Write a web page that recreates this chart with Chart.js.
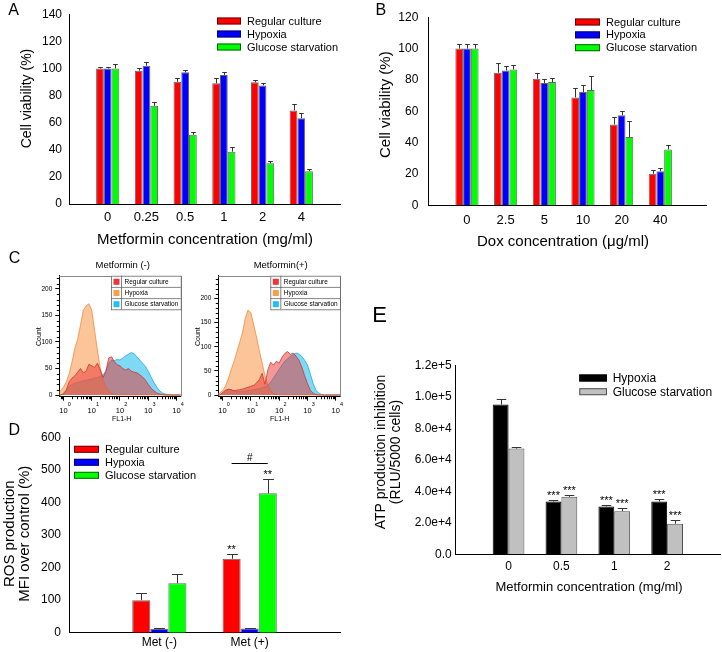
<!DOCTYPE html>
<html>
<head>
<meta charset="utf-8">
<title>Metformin figure</title>
<script src="https://cdn.jsdelivr.net/npm/chart.js@4.4.1/dist/chart.umd.min.js"></script>
<style>
  html, body { margin: 0; padding: 0; background: #fff; }
  body { position: relative; width: 722px; height: 652px; overflow: hidden; }
  canvas { position: absolute; }
</style>
</head>
<body>
<canvas id="panelA" width="360" height="255" style="left:0;top:0"></canvas>
<canvas id="panelB" width="362" height="255" style="left:360px;top:0"></canvas>
<canvas id="panelC1" width="195" height="185" style="left:0;top:245px"></canvas>
<canvas id="panelC2" width="180" height="185" style="left:185px;top:245px"></canvas>
<canvas id="panelD" width="360" height="237" style="left:0;top:415px"></canvas>
<canvas id="panelE" width="357" height="357" style="left:365px;top:295px"></canvas>
<script>
const FONT = "'Liberation Sans', Arial, Helvetica, sans-serif";
Chart.defaults.font.family = FONT;
Chart.defaults.color = "#000";
Chart.defaults.animation = false;

// A - cell viability vs metformin (%)
const metforminDosesA = ["0", "0.25", "0.5", "1", "2", "4"];
const regularA = [100, 98.3, 90.1, 89, 89.8, 69];
const hypoxiaA = [100, 102, 97.1, 95.2, 87.5, 63.3];
const glucoseA = [100, 72.4, 51.1, 38.6, 30, 24.2];
const regularErrA = [1, 2.2, 3, 4.3, 2, 4.6];
const hypoxiaErrA = [1, 2.5, 1.7, 1.9, 1.7, 3.6];
const glucoseErrA = [3, 2.9, 2, 3.1, 1.4, 1.5];
const viabilityTicksA = [0, 20, 40, 60, 80, 100, 120, 140];

// B - cell viability vs dox (%)
const doxDosesB = ["0", "2.5", "5", "10", "20", "40"];
const regularB = [100, 84.6, 80.7, 68.8, 51.6, 20.1];
const hypoxiaB = [100, 86, 78, 72.3, 57.5, 21.7];
const glucoseB = [100, 86.6, 78.6, 73.5, 43.6, 35.6];
const regularErrB = [2.6, 6.3, 3.9, 6.2, 4.5, 2.6];
const hypoxiaErrB = [3.2, 2.9, 2.3, 4.5, 2.7, 2.1];
const glucoseErrB = [3, 3.1, 2.9, 9, 9.9, 2.9];
const viabilityTicksB = [0, 20, 40, 60, 80, 100, 120];

// C - flow histograms, bins in log10(FL1-H)
const fl1Log = [-0.2, -0.1, 0, 0.1, 0.2, 0.3, 0.4, 0.5, 0.6, 0.7, 0.8, 0.9, 1, 1.1, 1.2,
  1.3, 1.4, 1.5, 1.6, 1.7, 1.8, 1.9, 2, 2.1, 2.2, 2.3, 2.4, 2.5, 2.6, 2.7, 2.8, 2.9, 3,
  3.1, 3.2, 3.3, 3.4, 3.5, 3.6, 3.7, 3.8, 3.9, 4, 4.1, 4.2];
const fl1Decades = [0, 1, 2, 3, 4];
const countTicksC = [0, 50, 100, 150, 200];
// Metformin (-)
const hypoxiaC1 = [3, 8, 15, 25, 40, 62, 88, 105, 132, 160, 168, 172, 160, 122, 85, 50, 28, 15, 8, 3, 1,
  0, 0, 0, 0, 0, 0, 0, 0, 0, 0, 0, 0, 0, 0, 0, 0, 0, 0, 0, 0, 0, 0, 0, 0];
const regularC1 = [0, 0, 3, 10, 25, 32, 36, 43, 50, 42, 45, 58, 55, 52, 60, 48, 33, 45, 70, 72, 63, 57,
  55, 50, 47, 50, 45, 43, 42, 38, 34, 28, 20, 13, 8, 4, 2, 1, 0, 0, 0, 0, 0, 0, 0];
const glucoseC1 = [0, 0, 2, 8, 16, 20, 22, 24, 25, 27, 28, 29, 30, 32, 33, 35, 38, 45, 60, 66, 65, 67,
  66, 70, 74, 77, 80, 78, 72, 66, 60, 54, 45, 34, 24, 15, 8, 4, 2, 1, 0, 0, 0, 0, 0];
// Metformin (+)
const hypoxiaC2 = [2, 4, 9, 18, 33, 52, 68, 88, 108, 128, 158, 176, 170, 146, 120, 92, 66, 40, 20, 9, 3, 1,
  0, 0, 0, 0, 0, 0, 0, 0, 0, 0, 0, 0, 0, 0, 0, 0, 0, 0, 0, 0, 0, 0, 0];
const regularC2 = [0, 0, 5, 10, 12, 11, 9, 10, 11, 12, 14, 16, 18, 20, 25, 32, 45, 22, 52, 68, 62, 70,
  66, 78, 86, 90, 84, 87, 80, 72, 58, 40, 24, 10, 4, 1, 0, 0, 0, 0, 0, 0, 0, 0, 0];
const glucoseC2 = [0, 0, 3, 8, 12, 11, 8, 7, 7, 8, 8, 9, 10, 11, 12, 13, 15, 17, 20, 27, 35, 44,
  53, 62, 70, 75, 80, 84, 87, 85, 80, 72, 62, 44, 24, 10, 4, 1, 0, 0, 0, 0, 0, 0, 0];

// D - ROS production, MFI over control (%)
const rosGroups = ["Met (-)", "Met (+)"];
const rosRegular = [100, 227];
const rosHypoxia = [12, 13];
const rosGlucose = [151.5, 428];
const rosRegularErr = [21, 14.6];
const rosHypoxiaErr = [1, 1.5];
const rosGlucoseErr = [27.5, 43];
const rosTicks = [0, 100, 200, 300, 400, 500, 600];
const rosBracketLevel = 520;

// E - ATP production inhibition (RLU/5000 cells)
const atpDoses = ["0", "0.5", "1", "2"];
const atpHypoxia = [95100, 33500, 30400, 33500];
const atpGlucose = [67100, 36500, 27400, 19400];
const atpHypoxiaErr = [3400, 900, 700, 1300];
const atpGlucoseErr = [800, 900, 1800, 2300];
const atpTicks = [0, 20000, 40000, 60000, 80000, 100000, 120000];

// ---------- small plugins ----------
function textPlugin(items) {
  return {
    id: "panelText",
    afterDraw(chart) {
      const ctx = chart.ctx;
      items.forEach((t) => {
        ctx.save();
        ctx.font = (t.size || 12) + "px " + FONT;
        ctx.fillStyle = "#000";
        ctx.textAlign = t.align || "center";
        ctx.textBaseline = t.base || "middle";
        ctx.translate(t.x, t.y);
        if (t.rot) ctx.rotate((t.rot * Math.PI) / 180);
        ctx.fillText(t.text, 0, 0);
        ctx.restore();
      });
    },
  };
}

function legendPlugin(o) {
  return {
    id: "insideLegend",
    afterDraw(chart) {
      const ctx = chart.ctx;
      ctx.save();
      ctx.font = o.size + "px " + FONT;
      ctx.textAlign = "left";
      ctx.textBaseline = "middle";
      chart.data.datasets.forEach((ds, i) => {
        const cy = o.y + i * o.row;
        ctx.fillStyle = ds.backgroundColor;
        ctx.fillRect(o.x, cy - o.sh / 2, o.sw, o.sh);
        ctx.strokeStyle = ds.borderColor;
        ctx.lineWidth = 1;
        ctx.strokeRect(o.x + 0.5, cy - o.sh / 2 + 0.5, o.sw - 1, o.sh - 1);
        ctx.fillStyle = "#000";
        ctx.fillText(ds.label, o.tx, cy + 0.5);
      });
      ctx.restore();
    },
  };
}

function errorBarPlugin(errors) {
  return {
    id: "errorBars",
    afterDatasetsDraw(chart) {
      const ctx = chart.ctx, y = chart.scales.y;
      ctx.save();
      ctx.strokeStyle = "#333";
      ctx.lineWidth = 1;
      chart.data.datasets.forEach((ds, d) => {
        chart.getDatasetMeta(d).data.forEach((bar, i) => {
          const top = Math.round(y.getPixelForValue(ds.data[i].y + errors[d][i])) + 0.5;
          const cx = Math.round(bar.x) + 0.5;
          const half = bar.width * 0.3;
          ctx.beginPath();
          ctx.moveTo(cx, bar.y);
          ctx.lineTo(cx, top);
          ctx.moveTo(cx - half, top);
          ctx.lineTo(cx + half, top);
          ctx.stroke();
        });
      });
      ctx.restore();
    },
  };
}

// asterisks above error bars, optional bracket with a label
function marksPlugin(errors, marks, size, bracket) {
  return {
    id: "sigMarks",
    afterDatasetsDraw(chart) {
      const ctx = chart.ctx, y = chart.scales.y;
      ctx.save();
      ctx.fillStyle = "#000";
      ctx.strokeStyle = "#000";
      ctx.textAlign = "center";
      ctx.textBaseline = "alphabetic";
      ctx.font = size + "px " + FONT;
      marks.forEach((m) => {
        const bar = chart.getDatasetMeta(m.ds).data[m.i];
        const v = chart.data.datasets[m.ds].data[m.i].y + errors[m.ds][m.i];
        ctx.fillText(m.text, bar.x, y.getPixelForValue(v) - 1);
      });
      if (bracket) {
        const b1 = chart.getDatasetMeta(bracket.from[0]).data[bracket.from[1]];
        const b2 = chart.getDatasetMeta(bracket.to[0]).data[bracket.to[1]];
        const py = Math.round(y.getPixelForValue(bracket.level)) + 0.5;
        ctx.lineWidth = 1;
        ctx.beginPath();
        ctx.moveTo(b1.x, py);
        ctx.lineTo(b2.x, py);
        ctx.stroke();
        ctx.font = "10px " + FONT;
        ctx.fillText(bracket.text, (b1.x + b2.x) / 2, py - 3);
      }
      ctx.restore();
    },
  };
}

function barPanel(id, p) {
  const canvas = document.getElementById(id);
  const W = canvas.width, H = canvas.height, a = p.area;
  return new Chart(canvas, {
    type: "bar",
    data: {
      datasets: p.series.map((s) => ({
        label: s.label,
        data: s.values.map((v, i) => ({ x: i, y: v })),
        backgroundColor: s.fill,
        borderColor: s.edge,
        borderWidth: 1,
        categoryPercentage: 0.6,
        barPercentage: 1,
      })),
    },
    options: {
      responsive: false,
      animation: false,
      events: [],
      layout: { padding: { left: 0, top: a.t, right: W - a.r, bottom: 0 } },
      plugins: { legend: { display: false }, tooltip: { enabled: false } },
      scales: {
        x: {
          type: "linear",
          offset: false,
          min: p.xMin,
          max: p.xMax,
          afterBuildTicks: (s) => { s.ticks = p.labels.map((_, i) => ({ value: i })); },
          afterFit: (s) => { s.height = H - a.b; },
          grid: { display: false, drawTicks: false },
          border: { display: true, color: "#000", width: 1 },
          ticks: {
            autoSkip: false,
            maxRotation: 0,
            padding: p.xPad,
            font: { size: p.xFont },
            callback: (v) => p.labels[v],
          },
        },
        y: {
          min: 0,
          max: p.yTicks[p.yTicks.length - 1],
          afterBuildTicks: (s) => { s.ticks = p.yTicks.map((v) => ({ value: v })); },
          afterFit: (s) => { s.width = a.l; },
          grid: { display: false, drawTicks: false },
          border: { display: true, color: "#000", width: 1 },
          ticks: { padding: p.yPad, font: { size: p.yFont }, callback: p.yFormat || ((v) => v) },
        },
      },
    },
    plugins: [errorBarPlugin(p.errors), legendPlugin(p.legend), textPlugin(p.texts)].concat(p.extra || []),
  });
}

const RED = "#ff0000", BLUE = "#0000ff", GREEN = "#00ff00", EDGE = "rgba(0,0,0,0.6)";

barPanel("panelA", {
  area: { l: 69, t: 9.3, r: 340, b: 204 },
  xMin: -1, xMax: 6,
  labels: metforminDosesA,
  yTicks: viabilityTicksA,
  xFont: 13, xPad: 6, yFont: 12, yPad: 7,
  series: [
    { label: "Regular culture", values: regularA, fill: RED, edge: EDGE },
    { label: "Hypoxia", values: hypoxiaA, fill: BLUE, edge: EDGE },
    { label: "Glucose starvation", values: glucoseA, fill: GREEN, edge: EDGE },
  ],
  errors: [regularErrA, hypoxiaErrA, glucoseErrA],
  legend: { x: 217, y: 21, row: 13, sw: 24, sh: 7, tx: 247, size: 11 },
  texts: [
    { text: "A", x: 13.7, y: 15, size: 16, base: "alphabetic" },
    { text: "Cell viability (%)", x: 27.5, y: 98.5, size: 14, rot: -90 },
    { text: "Metformin concentration (mg/ml)", x: 205, y: 244, size: 15, base: "alphabetic" },
  ],
});

barPanel("panelB", {
  area: { l: 68.3, t: 10, r: 346.7, b: 205.3 },
  xMin: -1, xMax: 6.2,
  labels: doxDosesB,
  yTicks: viabilityTicksB,
  xFont: 13, xPad: 7, yFont: 12, yPad: 10,
  series: [
    { label: "Regular culture", values: regularB, fill: RED, edge: EDGE },
    { label: "Hypoxia", values: hypoxiaB, fill: BLUE, edge: EDGE },
    { label: "Glucose starvation", values: glucoseB, fill: GREEN, edge: EDGE },
  ],
  errors: [regularErrB, hypoxiaErrB, glucoseErrB],
  legend: { x: 215, y: 22, row: 12.85, sw: 25, sh: 7, tx: 246, size: 11 },
  texts: [
    { text: "B", x: 20.8, y: 15, size: 16, base: "alphabetic" },
    { text: "Cell viability (%)", x: 25.5, y: 104.7, size: 15, rot: -90 },
    { text: "Dox concentration (\u03bcg/ml)", x: 203, y: 246, size: 15, base: "alphabetic" },
  ],
});

// ---------- C: histograms ----------
function histDecor() {
  return {
    id: "histDecor",
    afterDraw(chart) {
      const ctx = chart.ctx, a = chart.chartArea, x = chart.scales.x, y = chart.scales.y;
      ctx.save();
      ctx.strokeStyle = "#888";
      ctx.lineWidth = 1;
      ctx.beginPath();
      ctx.moveTo(a.left, Math.round(a.top) + 0.5);
      ctx.lineTo(Math.round(a.right) + 0.5, Math.round(a.top) + 0.5);
      ctx.lineTo(Math.round(a.right) + 0.5, a.bottom);
      ctx.stroke();
      // minor ticks
      ctx.strokeStyle = "#000";
      ctx.beginPath();
      for (let d = -1; d < 5; d++) {
        for (let k = 2; k < 10; k++) {
          const v = d + Math.log10(k);
          if (v < x.min || v > x.max) continue;
          const px = Math.round(x.getPixelForValue(v)) + 0.5;
          ctx.moveTo(px, a.bottom);
          ctx.lineTo(px, a.bottom + 2.5);
        }
      }
      for (let c = 10; c < y.max; c += 10) {
        if (c % 50 === 0) continue;
        const py = Math.round(y.getPixelForValue(c)) + 0.5;
        ctx.moveTo(a.left, py);
        ctx.lineTo(a.left - 2.5, py);
      }
      ctx.stroke();
      // decade labels 10^n
      ctx.fillStyle = "#000";
      ctx.textBaseline = "middle";
      fl1Decades.forEach((d) => {
        const px = x.getPixelForValue(d);
        ctx.font = "7.5px " + FONT;
        ctx.textAlign = "center";
        ctx.fillText("10", px, a.bottom + 14);
        ctx.font = "5.5px " + FONT;
        ctx.textAlign = "left";
        ctx.fillText(String(d), px + 4.3, a.bottom + 8);
      });
      ctx.restore();
    },
  };
}

function legendBox(o) {
  return {
    id: "legendBox",
    afterDraw(chart) {
      const ctx = chart.ctx;
      const h = o.row * 3;
      ctx.save();
      ctx.fillStyle = "#fff";
      ctx.fillRect(o.x, o.y, o.w, h);
      ctx.strokeStyle = "#666";
      ctx.lineWidth = 0.8;
      ctx.strokeRect(o.x + 0.5, o.y + 0.5, o.w, h);
      ctx.beginPath();
      ctx.moveTo(o.x + 10.5, o.y);
      ctx.lineTo(o.x + 10.5, o.y + h);
      ctx.stroke();
      ctx.font = "6.5px " + FONT;
      ctx.textAlign = "left";
      ctx.textBaseline = "middle";
      chart.data.datasets.forEach((ds, i) => {
        const top = o.y + i * o.row;
        if (i > 0) {
          ctx.beginPath();
          ctx.moveTo(o.x, top + 0.5);
          ctx.lineTo(o.x + o.w, top + 0.5);
          ctx.stroke();
        }
        ctx.fillStyle = o.swatches[i];
        ctx.fillRect(o.x + 2.5, top + (o.row - 6) / 2 + 0.5, 6, 6);
        ctx.fillStyle = "#000";
        ctx.fillText(ds.label, o.x + 13.5, top + o.row / 2 + 0.5);
      });
      ctx.restore();
    },
  };
}

function histPanel(id, p) {
  const canvas = document.getElementById(id);
  const W = canvas.width, H = canvas.height, a = p.area;
  const mk = (label, counts, fill, line) => ({
    label,
    data: counts.map((c, i) => ({ x: fl1Log[i], y: c })),
    backgroundColor: fill,
    borderColor: line,
    borderWidth: 0.8,
    fill: "origin",
    pointRadius: 0,
    tension: 0,
  });
  return new Chart(canvas, {
    type: "line",
    data: {
      datasets: [
        mk("Regular culture", p.regular, "rgba(236,48,48,0.5)", "rgba(205,40,40,0.9)"),
        mk("Hypoxia", p.hypoxia, "rgba(248,150,70,0.55)", "rgba(235,130,50,0.9)"),
        mk("Glucose starvation", p.glucose, "rgba(20,185,235,0.55)", "rgba(20,160,220,0.9)"),
      ],
    },
    options: {
      responsive: false,
      animation: false,
      events: [],
      layout: { padding: { left: 0, top: a.t, right: W - a.r, bottom: 0 } },
      plugins: { legend: { display: false }, tooltip: { enabled: false } },
      scales: {
        x: {
          type: "linear",
          offset: false,
          min: -0.15,
          max: 4.15,
          afterBuildTicks: (s) => { s.ticks = fl1Decades.map((v) => ({ value: v })); },
          afterFit: (s) => { s.height = H - a.b; },
          grid: { display: true, drawOnChartArea: false, drawTicks: true, tickLength: 4, color: "#000" },
          border: { display: true, color: "#000", width: 1 },
          ticks: { display: false },
        },
        y: {
          min: p.yMin,
          max: p.yMax,
          afterBuildTicks: (s) => { s.ticks = countTicksC.map((v) => ({ value: v })); },
          afterFit: (s) => { s.width = a.l; },
          grid: { display: true, drawOnChartArea: false, drawTicks: true, tickLength: 4, color: "#000" },
          border: { display: true, color: "#000", width: 1 },
          ticks: { font: { size: 6.5 }, padding: 3 },
        },
      },
    },
    plugins: [histDecor(), legendBox(p.legendBox), textPlugin(p.texts)],
  });
}

const swatchesC = ["#ee3535", "#f7a04a", "#22c0ef"];

histPanel("panelC1", {
  area: { l: 59.3, t: 30.7, r: 180.7, b: 151.7 },
  yMin: -3.2, yMax: 225,
  regular: regularC1, hypoxia: hypoxiaC1, glucose: glucoseC1,
  legendBox: { x: 111, y: 30.7, w: 69.7, row: 11.2, swatches: swatchesC },
  texts: [
    { text: "C", x: 14.5, y: 18.3, size: 16, base: "alphabetic" },
    { text: "Metformin (-)", x: 122.7, y: 20.7, size: 9.5 },
    { text: "Count", x: 39.2, y: 91.7, size: 7, rot: -90 },
    { text: "FL1-H", x: 121.7, y: 174, size: 7 },
  ],
});

histPanel("panelC2", {
  area: { l: 33.3, t: 30.7, r: 155, b: 151.7 },
  yMin: -3.5, yMax: 247,
  regular: regularC2, hypoxia: hypoxiaC2, glucose: glucoseC2,
  legendBox: { x: 85.3, y: 30.7, w: 69.7, row: 11.2, swatches: swatchesC },
  texts: [
    { text: "Metformin(+)", x: 95.7, y: 20.7, size: 9.5 },
    { text: "Count", x: 13.3, y: 91.7, size: 7, rot: -90 },
    { text: "FL1-H", x: 94.7, y: 174, size: 7 },
  ],
});

// ---------- D ----------
const rosErrors = [rosRegularErr, rosHypoxiaErr, rosGlucoseErr];
barPanel("panelD", {
  area: { l: 69, t: 22.3, r: 340, b: 217.7 },
  xMin: -1, xMax: 2,
  labels: rosGroups,
  yTicks: rosTicks,
  xFont: 12, xPad: 3, yFont: 12, yPad: 8,
  series: [
    { label: "Regular culture", values: rosRegular, fill: RED, edge: EDGE },
    { label: "Hypoxia", values: rosHypoxia, fill: BLUE, edge: EDGE },
    { label: "Glucose starvation", values: rosGlucose, fill: GREEN, edge: EDGE },
  ],
  errors: rosErrors,
  legend: { x: 74, y: 34.3, row: 13, sw: 25, sh: 7, tx: 105, size: 11 },
  texts: [
    { text: "D", x: 14.2, y: 20, size: 16, base: "alphabetic" },
    { text: "ROS production", x: 9.7, y: 118.7, size: 15, rot: -90 },
    { text: "MFI over control (%)", x: 25, y: 118.7, size: 15, rot: -90 },
  ],
  extra: [
    marksPlugin(rosErrors, [{ ds: 0, i: 1, text: "**" }, { ds: 2, i: 1, text: "**" }], 11,
      { from: [0, 1], to: [2, 1], level: rosBracketLevel, text: "#" }),
  ],
});

// ---------- E ----------
const atpErrors = [atpHypoxiaErr, atpGlucoseErr];
const sciLabel = (v) => {
  if (v === 0) return "0.0";
  const e = Math.floor(Math.log10(v));
  return (v / Math.pow(10, e)).toFixed(1) + "e+" + e;
};
barPanel("panelE", {
  area: { l: 90.7, t: 70.3, r: 355, b: 259.3 },
  xMin: -1, xMax: 4,
  labels: atpDoses,
  yTicks: atpTicks,
  yFormat: sciLabel,
  xFont: 12, xPad: 5, yFont: 12, yPad: 4,
  series: [
    { label: "Hypoxia", values: atpHypoxia, fill: "#000000", edge: "#000000" },
    { label: "Glucose starvation", values: atpGlucose, fill: "#c0c0c0", edge: "#505050" },
  ],
  errors: atpErrors,
  legend: { x: 214.3, y: 83, row: 13.7, sw: 27.7, sh: 7, tx: 247.7, size: 12 },
  texts: [
    { text: "E", x: 14.5, y: 26.7, size: 22, base: "alphabetic" },
    { text: "ATP production inhibition", x: 16, y: 157, size: 14, rot: -90 },
    { text: "(RLU/5000 cells)", x: 31, y: 157, size: 14, rot: -90 },
    { text: "Metformin concentration (mg/ml)", x: 224, y: 296, size: 13, base: "alphabetic" },
  ],
  extra: [
    marksPlugin(atpErrors, [
      { ds: 0, i: 1, text: "***" }, { ds: 1, i: 1, text: "***" },
      { ds: 0, i: 2, text: "***" }, { ds: 1, i: 2, text: "***" },
      { ds: 0, i: 3, text: "***" }, { ds: 1, i: 3, text: "***" },
    ], 11),
  ],
});
</script>
</body>
</html>
